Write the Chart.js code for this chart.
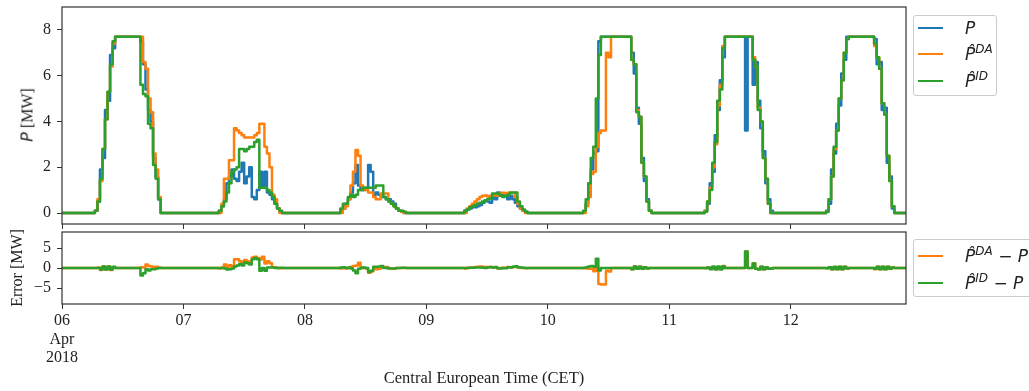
<!DOCTYPE html>
<html>
<head>
<meta charset="utf-8">
<script src="https://cdn.jsdelivr.net/npm/chart.js@4.4.1/dist/chart.umd.min.js"></script>
<style>
  body { margin: 0; background: #fff; }
  #wrap { position: relative; width: 1029px; height: 391px; overflow: hidden; }
  canvas { position: absolute; left: 0; }
  #powerChart { top: 0; }
  #errorChart { top: 226px; }
  .ylab { position: absolute; transform: translate(-50%, -50%) rotate(-90deg); white-space: nowrap;
          font: 16px "Liberation Serif", serif; color: #222; }
  .ylab i { font-family: "DejaVu Sans", sans-serif; }
  .legend { position: absolute; background: rgba(255,255,255,0.85); border: 1px solid #ccc;
            border-radius: 3px; box-sizing: border-box; }
  .swatch { position: absolute; left: 4px; width: 25px; height: 2px; }
  .lbl { position: absolute; left: 51px; font: italic 17px "DejaVu Sans", sans-serif; line-height: 20px;
         white-space: nowrap; color: #222; }
  .lbl sup { font-size: 12px; vertical-align: 7px; line-height: 0; }
  .lbl .op { font-style: normal; }
</style>
</head>
<body>
<div id="wrap">
  <canvas id="powerChart" width="1029" height="230"></canvas>
  <canvas id="errorChart" width="1029" height="165"></canvas>

  <div class="ylab" style="left:27px; top:115px;"><i>P</i> [MW]</div>

  <div class="legend" style="left:913px; top:15px; width:84px; height:81px;">
    <span class="swatch" style="top:11px; background:#1f77b4;"></span>
    <span class="lbl" style="top:2px;">P</span>
    <span class="swatch" style="top:37px; background:#ff7f0e;"></span>
    <span class="lbl" style="top:28px;">P&#770;<sup>DA</sup></span>
    <span class="swatch" style="top:64px; background:#2ca02c;"></span>
    <span class="lbl" style="top:55px;">P&#770;<sup>ID</sup></span>
  </div>

  <div class="legend" style="left:913px; top:239px; width:130px; height:58px;">
    <span class="swatch" style="top:15px; background:#ff7f0e;"></span>
    <span class="lbl" style="top:6px;">P&#770;<sup>DA</sup> <span class="op">&minus;</span> P</span>
    <span class="swatch" style="top:42px; background:#2ca02c;"></span>
    <span class="lbl" style="top:33px;">P&#770;<sup>ID</sup> <span class="op">&minus;</span> P</span>
  </div>
</div>

<script>
// each row = one day, values every 30 min from 06:00 to 20:30 (hours since 06 Apr 00:00)
const SLOT_START = 6;
const SLOT_HOURS = 0.5;
const X_END = 166.8;

const DAY_LABELS = ["06", "07", "08", "09", "10", "11", "12"];
const FIRST_LABEL = ["06", "Apr", "2018"];
const DAY_TICKS = [0, 24, 48, 72, 96, 120, 144];
const P_TICKS = [0, 2, 4, 6, 8];
const ERR_TICKS = [-5, 0, 5];

// measured power P [MW]
const actualP = [
    [0, 0.1, 0.5, 1.9, 2.4, 4.5, 4.9, 6.9, 7.2, 7.7, 7.7, 7.7, 7.7, 7.7, 7.7, 7.7, 7.7, 7.7, 7.7, 7.5, 6.5, 5.4, 4.5, 4.0, 2.4, 1.6, 0.6, 0, 0, 0],
    [0, 0, 0.1, 0.3, 0.6, 1.3, 1.6, 1.9, 1.5, 1.4, 1.8, 2.2, 1.3, 1.6, 2.0, 0.7, 0.6, 1.0, 1.8, 1.1, 1.8, 0.9, 0.8, 0.6, 0.4, 0.2, 0.05, 0, 0, 0],
    [0, 0, 0.1, 0.2, 0.4, 0.6, 0.9, 1.3, 2.1, 1.2, 1.0, 1.0, 1.1, 2.1, 1.8, 0.8, 0.9, 0.8, 0.7, 0.7, 0.6, 0.6, 0.5, 0.4, 0.2, 0.1, 0.05, 0, 0, 0],
    [0, 0, 0, 0.1, 0.15, 0.2, 0.25, 0.25, 0.3, 0.35, 0.45, 0.55, 0.5, 0.45, 0.7, 0.6, 0.9, 0.85, 0.75, 0.8, 0.6, 0.75, 0.6, 0.45, 0.3, 0.2, 0.1, 0.05, 0, 0],
    [0, 0, 0.05, 0.4, 0.9, 1.9, 2.6, 2.7, 7.5, 7.7, 7.7, 7.7, 7.7, 7.7, 7.7, 7.7, 7.7, 7.7, 7.7, 7.7, 7.7, 7.0, 6.1, 4.6, 3.9, 2.4, 1.4, 0.6, 0.1, 0],
    [0, 0, 0.1, 0.4, 1.3, 1.8, 3.4, 4.5, 5.8, 6.8, 7.7, 7.7, 7.7, 7.7, 7.7, 7.7, 7.7, 7.7, 3.6, 7.7, 7.7, 5.6, 6.6, 4.9, 3.7, 2.7, 1.3, 0.6, 0.1, 0],
    [0, 0, 0.1, 0.4, 1.9, 2.6, 3.9, 4.7, 6.1, 6.7, 7.7, 7.7, 7.7, 7.7, 7.7, 7.7, 7.7, 7.7, 7.7, 7.7, 7.7, 7.6, 6.5, 6.6, 4.5, 4.6, 2.2, 1.6, 0.2, 0]
];

// day-ahead forecast
const forecastDA = [
    [0, 0.1, 0.6, 1.4, 2.8, 4.1, 5.3, 6.4, 7.4, 7.7, 7.7, 7.7, 7.7, 7.7, 7.7, 7.7, 7.7, 7.7, 7.7, 7.7, 6.6, 6.3, 5.0, 4.4, 2.6, 1.9, 0.7, 0, 0, 0],
    [0, 0, 0, 0.4, 1.5, 1.5, 2.3, 2.3, 3.7, 3.6, 3.5, 3.4, 3.3, 3.3, 3.3, 3.3, 3.4, 3.5, 3.9, 3.9, 2.9, 2.6, 2.0, 0.8, 0.6, 0.2, 0, 0, 0, 0],
    [0, 0, 0, 0.2, 0.3, 0.6, 1.2, 1.8, 2.75, 2.5, 1.2, 1.0, 1.0, 0.9, 0.9, 0.7, 0.6, 0.6, 0.85, 0.85, 0.85, 0.5, 0.4, 0.3, 0.2, 0.1, 0.05, 0, 0, 0],
    [0, 0, 0, 0, 0.2, 0.3, 0.4, 0.5, 0.6, 0.7, 0.75, 0.77, 0.72, 0.75, 0.77, 0.8, 0.75, 0.88, 0.88, 0.85, 0.88, 0.88, 0.88, 0.7, 0.4, 0.2, 0.1, 0, 0, 0],
    [0, 0, 0, 0.3, 0.7, 1.7, 1.8, 2.9, 3.5, 3.6, 3.6, 7.0, 6.8, 7.7, 7.7, 7.7, 7.7, 7.7, 7.7, 7.7, 7.7, 6.7, 6.5, 4.5, 4.2, 2.2, 1.6, 0.5, 0.1, 0],
    [0, 0, 0.1, 0.5, 1.1, 2.0, 3.0, 4.7, 5.6, 7.3, 7.7, 7.7, 7.7, 7.7, 7.7, 7.7, 7.7, 7.7, 7.7, 7.7, 7.7, 6.8, 6.4, 4.6, 4.0, 2.4, 1.5, 0.4, 0, 0],
    [0, 0, 0.05, 0.6, 1.6, 2.8, 3.6, 5.0, 5.8, 7.0, 7.6, 7.7, 7.7, 7.7, 7.7, 7.7, 7.7, 7.7, 7.7, 7.7, 7.7, 7.3, 6.8, 6.3, 4.8, 4.3, 2.5, 1.4, 0.3, 0]
];

// intraday forecast
const forecastID = [
    [0, 0.1, 0.5, 1.5, 2.8, 4.1, 5.3, 6.5, 7.5, 7.7, 7.7, 7.7, 7.7, 7.7, 7.7, 7.7, 7.7, 7.7, 7.7, 5.6, 5.2, 5.1, 3.9, 3.7, 2.1, 1.5, 0.6, 0, 0, 0],
    [0, 0, 0.1, 0.3, 0.5, 0.9, 1.3, 1.8, 1.9, 2.0, 2.8, 2.8, 2.7, 2.8, 2.9, 2.9, 3.1, 3.2, 1.1, 1.1, 1.1, 1.0, 0.9, 0.7, 0.4, 0.2, 0.1, 0, 0, 0],
    [0, 0, 0.2, 0.4, 0.4, 0.7, 0.8, 0.7, 0.8, 1.0, 1.0, 1.1, 1.1, 1.1, 1.1, 1.1, 1.2, 1.2, 1.2, 0.7, 0.6, 0.5, 0.4, 0.3, 0.2, 0.1, 0.1, 0.05, 0, 0],
    [0, 0, 0, 0.1, 0.15, 0.25, 0.3, 0.35, 0.4, 0.45, 0.5, 0.55, 0.6, 0.65, 0.85, 0.85, 0.85, 0.75, 0.7, 0.75, 0.8, 0.9, 0.9, 0.9, 0.5, 0.3, 0.15, 0.05, 0, 0],
    [0, 0, 0.1, 0.6, 1.3, 2.4, 2.9, 5.0, 6.9, 7.7, 7.7, 7.7, 7.7, 7.7, 7.7, 7.7, 7.7, 7.7, 7.7, 7.7, 7.7, 6.7, 6.5, 4.4, 4.2, 2.2, 1.6, 0.5, 0.1, 0],
    [0, 0, 0.05, 0.5, 1.0, 2.2, 3.1, 4.9, 5.4, 7.2, 7.7, 7.7, 7.7, 7.7, 7.7, 7.7, 7.7, 7.7, 7.7, 7.7, 7.7, 6.7, 6.4, 4.5, 4.0, 2.4, 1.5, 0.4, 0, 0],
    [0, 0, 0.05, 0.6, 1.6, 2.9, 3.6, 5.0, 5.8, 7.0, 7.6, 7.7, 7.7, 7.7, 7.7, 7.7, 7.7, 7.7, 7.7, 7.7, 7.7, 7.4, 6.8, 6.3, 4.8, 4.3, 2.5, 1.4, 0.3, 0]
];

const BLUE = "#1f77b4";
const ORANGE = "#ff7f0e";
const GREEN = "#2ca02c";
const AXIS_COLOR = "#333";
const TEXT_COLOR = "#222";
const SERIF = "'Liberation Serif', 'Times New Roman', serif";

function toPoints(rows, baseRows) {
    const pts = [{ x: 0, y: 0 }];
    rows.forEach((row, d) => {
        row.forEach((v, i) => {
            const y = baseRows ? v - baseRows[d][i] : v;
            pts.push({ x: d * 24 + SLOT_START + i * SLOT_HOURS, y: y });
        });
    });
    pts.push({ x: X_END, y: 0 });
    return pts;
}

function lineStyle(color, order) {
    return {
        borderColor: color,
        borderWidth: 2.5,
        borderJoinStyle: "round",
        stepped: true,
        pointRadius: 0,
        fill: false,
        order: order
    };
}

// matplotlib-like box around the plot area
const framePlugin = {
    id: "frame",
    afterDraw(chart) {
        const { ctx, chartArea: a } = chart;
        ctx.save();
        ctx.strokeStyle = AXIS_COLOR;
        ctx.lineWidth = 1.2;
        ctx.strokeRect(a.left, a.top, a.right - a.left, a.bottom - a.top);
        ctx.restore();
    }
};

const tickGrid = {
    drawOnChartArea: false,
    drawTicks: true,
    tickLength: 5,
    tickWidth: 1,
    tickColor: AXIS_COLOR
};

const tickFont = { family: SERIF, size: 16, lineHeight: 1.15 };

// fixed axis sizes so both panels line up exactly
function fixSize(prop, size) {
    return s => {
        s[prop] = size;
        s.paddingTop = 0;
        s.paddingBottom = 0;
        s.paddingLeft = 0;
        s.paddingRight = 0;
    };
}

function dayLabel(value) {
    const i = DAY_TICKS.indexOf(value);
    if (i === 0) return FIRST_LABEL;
    return i > 0 ? DAY_LABELS[i] : "";
}

new Chart(document.getElementById("powerChart"), {
    type: "line",
    data: {
        datasets: [
            { label: "P", data: toPoints(actualP), ...lineStyle(BLUE, 2) },
            { label: "P DA", data: toPoints(forecastDA), ...lineStyle(ORANGE, 1) },
            { label: "P ID", data: toPoints(forecastID), ...lineStyle(GREEN, 0) }
        ]
    },
    options: {
        responsive: false,
        animation: false,
        layout: { padding: { left: 0, right: 123, top: 7, bottom: 0 } },
        plugins: {
            legend: { display: false },
            tooltip: { enabled: false }
        },
        scales: {
            x: {
                type: "linear",
                min: 0,
                max: X_END,
                afterBuildTicks: s => { s.ticks = DAY_TICKS.map(v => ({ value: v })); },
                afterFit: fixSize("height", 6),
                ticks: { display: false },
                grid: tickGrid,
                border: { display: false }
            },
            y: {
                min: -0.48,
                max: 9,
                afterBuildTicks: s => { s.ticks = P_TICKS.map(v => ({ value: v })); },
                afterFit: fixSize("width", 62),
                ticks: { font: tickFont, color: TEXT_COLOR, padding: 6 },
                grid: tickGrid,
                border: { display: false }
            }
        }
    },
    plugins: [framePlugin]
});

new Chart(document.getElementById("errorChart"), {
    type: "line",
    data: {
        datasets: [
            { label: "DA - P", data: toPoints(forecastDA, actualP), ...lineStyle(ORANGE, 1) },
            { label: "ID - P", data: toPoints(forecastID, actualP), ...lineStyle(GREEN, 0) }
        ]
    },
    options: {
        responsive: false,
        animation: false,
        layout: { padding: { left: 0, right: 123, top: 6, bottom: 0 } },
        plugins: {
            legend: { display: false },
            tooltip: { enabled: false }
        },
        scales: {
            x: {
                type: "linear",
                min: 0,
                max: X_END,
                afterBuildTicks: s => { s.ticks = DAY_TICKS.map(v => ({ value: v })); },
                afterFit: fixSize("height", 87),
                ticks: {
                    font: tickFont,
                    color: TEXT_COLOR,
                    padding: 3,
                    maxRotation: 0,
                    autoSkip: false,
                    callback: dayLabel
                },
                title: {
                    display: true,
                    text: "Central European Time (CET)",
                    font: { family: SERIF, size: 16.5 },
                    color: TEXT_COLOR,
                    padding: { top: 0, bottom: 2 }
                },
                grid: tickGrid,
                border: { display: false }
            },
            y: {
                min: -9,
                max: 9,
                afterBuildTicks: s => { s.ticks = ERR_TICKS.map(v => ({ value: v })); },
                afterFit: fixSize("width", 62),
                ticks: {
                    font: tickFont,
                    color: TEXT_COLOR,
                    padding: 6,
                    callback: v => (v < 0 ? "\u2212" + Math.abs(v) : String(v))
                },
                title: {
                    display: true,
                    text: "Error [MW]",
                    font: { family: SERIF, size: 16 },
                    color: TEXT_COLOR,
                    padding: { top: 8, bottom: 0 }
                },
                grid: tickGrid,
                border: { display: false }
            }
        }
    },
    plugins: [framePlugin]
});
</script>
</body>
</html>
